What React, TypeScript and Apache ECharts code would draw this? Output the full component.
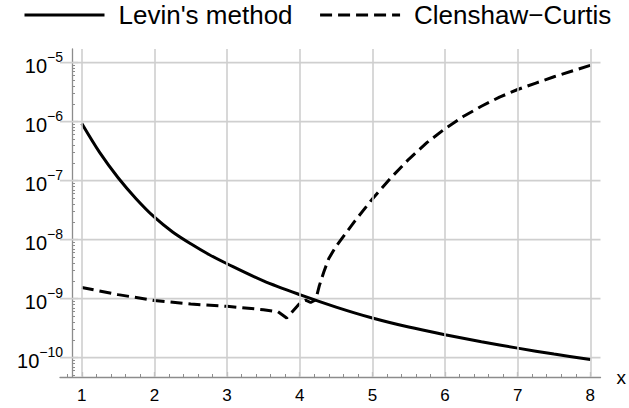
import React, { useEffect, useRef } from 'react';
import * as echarts from 'echarts';

// Levin's method (solid)
const levinX = [1, 1.25, 1.5, 1.75, 2, 2.25, 2.5, 2.75, 3, 3.5, 4, 4.5, 5, 5.5, 6, 6.5, 7, 7.5, 8];
const levinY = [9.3e-7, 2.95e-7, 1.12e-7, 4.9e-8, 2.4e-8, 1.35e-8, 8.5e-9, 5.6e-9, 3.9e-9, 2.0e-9, 1.17e-9, 7.2e-10, 4.7e-10, 3.3e-10, 2.45e-10, 1.86e-10, 1.45e-10, 1.15e-10, 9.3e-11];

// Clenshaw–Curtis (dashed)
const ccX = [1, 1.5, 2, 2.5, 3, 3.5, 3.7, 3.82, 4.0, 4.08, 4.15, 4.22, 4.27, 4.33, 4.4, 4.5, 4.75, 5.0, 5.25, 5.5, 5.75, 6.0, 6.25, 6.5, 6.75, 7.0, 7.25, 7.5, 7.75, 8.0];
const ccY = [1.55e-9, 1.17e-9, 9.3e-10, 8.1e-10, 7.4e-10, 6.5e-10, 6.0e-10, 4.7e-10, 8.3e-10, 9.4e-10, 8.6e-10, 9.5e-10, 1.66e-9, 2.8e-9, 4.8e-9, 7.7e-9, 2.0e-8, 4.9e-8, 1.1e-7, 2.3e-7, 4.4e-7, 7.6e-7, 1.22e-6, 1.82e-6, 2.6e-6, 3.5e-6, 4.5e-6, 5.75e-6, 7.2e-6, 9.0e-6];

const seriesNames = ["Levin's method", 'Clenshaw\u2212Curtis'];
const xMajor = [1, 2, 3, 4, 5, 6, 7, 8];
const yMajor = [1e-10, 1e-9, 1e-8, 1e-7, 1e-6, 1e-5];
const xMin = 0.7;
const xMax = 8.14;
const yMin = 4.7e-11;
const yMax = 1.7e-5;

const xMinor: number[] = [];
for (let k = 4; k <= 40; k++) if (k % 5 !== 0) xMinor.push(k / 5);
const yMinor: number[] = [];
for (let e = -11; e <= -5; e++) {
  for (let m = 2; m <= 9; m++) {
    const v = m * Math.pow(10, e);
    if (v > yMin && v < yMax) yMinor.push(v);
  }
}

const FONT = '"Liberation Sans", Arial, sans-serif';
const AXIS_COLOR = '#8c8c8c';
const GRID_COLOR = '#cfcfcf';

export default function App() {
  const ref = useRef<HTMLDivElement>(null);
  useEffect(() => {
    document.body.style.margin = '0';
    const chart = echarts.init(ref.current!, null, { renderer: 'svg' });
    const yFormatter = (v: number) => {
      const l = Math.log10(v);
      const e = Math.round(l);
      if (Math.abs(l - e) > 1e-6) return '';
      return `{b|10}{s|\u2212${-e}}`;
    };
    const hGrid = yMajor.map((v) => ({
      name: 'hgrid' + v,
      type: 'line',
      z: 1,
      silent: true,
      symbol: 'none',
      data: [[xMin, v], [xMax, v]],
      lineStyle: { color: GRID_COLOR, width: 1.6 },
      emphasis: { disabled: true },
    }));
    chart.setOption({
      animation: false,
      backgroundColor: '#ffffff',
      textStyle: { fontFamily: FONT },
      legend: {
        top: -3,
        left: 18,
        itemWidth: 80,
        itemHeight: 16,
        itemGap: 26,
        data: seriesNames,
        itemStyle: { opacity: 0 },
        lineStyle: { width: 3 },
        textStyle: { fontSize: 26, color: '#000', fontFamily: FONT, padding: [0, 0, 0, 9] },
      },
      grid: { left: 60, right: 26, top: 49, bottom: 31 },
      xAxis: [
        {
          type: 'value',
          min: xMin,
          max: xMax,
          position: 'bottom',
          name: 'x',
          nameLocation: 'end',
          nameGap: 16,
          nameTextStyle: { fontSize: 19, color: '#000', fontFamily: FONT, padding: [4, 0, 0, 0] },
          axisLine: { show: true, onZero: false, lineStyle: { color: AXIS_COLOR, width: 1.3 } },
          axisTick: { show: true, inside: true, length: 5, customValues: xMajor, lineStyle: { color: AXIS_COLOR, width: 1.2 } },
          axisLabel: { customValues: xMajor, color: '#000', fontSize: 17, margin: 10, fontFamily: FONT },
          splitLine: { show: false },
        },
        {
          type: 'value',
          min: xMin,
          max: xMax,
          position: 'bottom',
          axisLine: { show: false },
          axisTick: { show: true, inside: true, length: 3, customValues: xMinor, lineStyle: { color: AXIS_COLOR, width: 1 } },
          axisLabel: { show: false },
          splitLine: { show: false },
        },
      ],
      yAxis: [
        {
          type: 'log',
          logBase: 10,
          min: yMin,
          max: yMax,
          position: 'left',
          offset: -12,
          axisLine: { show: true, onZero: false, lineStyle: { color: AXIS_COLOR, width: 1.3 } },
          axisTick: { show: true, inside: true, length: 6, customValues: yMajor, lineStyle: { color: AXIS_COLOR, width: 1.2 } },
          axisLabel: {
            customValues: yMajor,
            margin: 9,
            formatter: yFormatter,
            rich: {
              b: { fontSize: 20, lineHeight: 26, verticalAlign: 'bottom', fontFamily: FONT, color: '#000' },
              s: { fontSize: 14, lineHeight: 14, verticalAlign: 'top', fontFamily: FONT, color: '#000' },
            },
          },
          splitLine: { show: false },
        },
        {
          type: 'log',
          logBase: 10,
          min: yMin,
          max: yMax,
          position: 'left',
          offset: -12,
          axisLine: { show: false },
          axisTick: { show: true, inside: true, length: 3, customValues: yMinor, lineStyle: { color: AXIS_COLOR, width: 1 } },
          axisLabel: { show: false },
          splitLine: { show: false },
        },
      ],
      series: [
        {
          name: 'vgrid',
          type: 'line',
          data: [],
          z: 1,
          silent: true,
          markLine: {
            silent: true,
            symbol: ['none', 'none'],
            label: { show: false },
            lineStyle: { color: GRID_COLOR, width: 1.6, type: 'solid' },
            emphasis: { disabled: true },
            data: xMajor.map((v) => ({ xAxis: v })),
          },
        },
        ...hGrid,
        {
          name: seriesNames[0],
          type: 'line',
          z: 3,
          smooth: 0.3,
          showSymbol: false,
          symbol: 'none',
          data: levinX.map((x, i) => [x, levinY[i]]),
          lineStyle: { color: '#000', width: 3 },
          itemStyle: { color: '#000' },
        },
        {
          name: seriesNames[1],
          type: 'line',
          z: 3,
          smooth: false,
          showSymbol: false,
          symbol: 'none',
          data: ccX.map((x, i) => [x, ccY[i]]),
          lineStyle: { color: '#000', width: 3, type: [12, 6] },
          itemStyle: { color: '#000' },
        },
      ],
    });
    return () => chart.dispose();
  }, []);
  return <div ref={ref} style={{ position: 'absolute', left: 0, top: 0, width: 629, height: 408 }} />;
}
